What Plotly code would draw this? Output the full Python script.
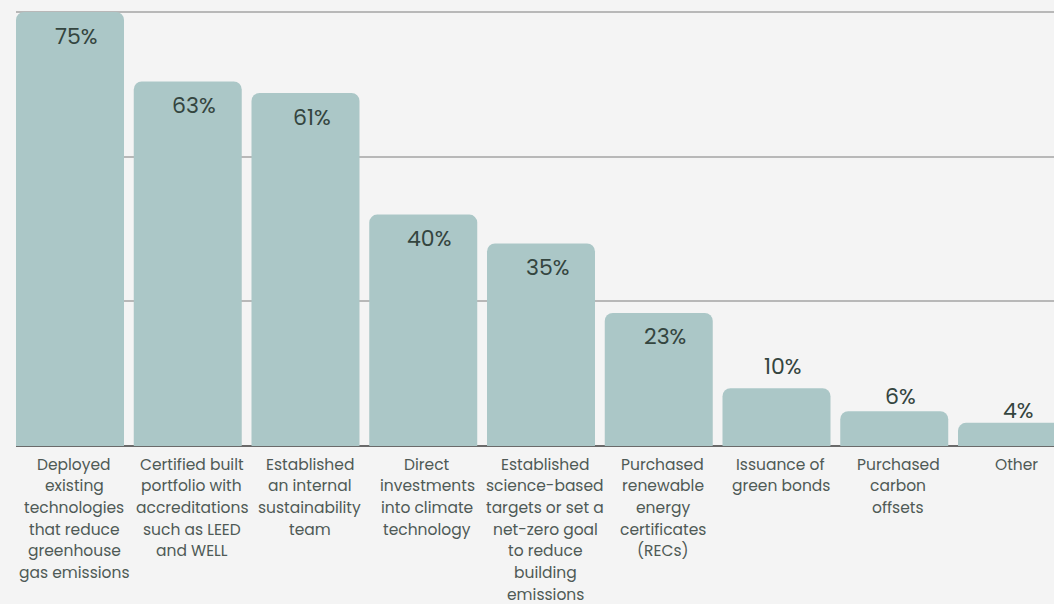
import plotly.graph_objects as go

categories = [
    "Deployed<br>existing<br>technologies<br>that reduce<br>greenhouse<br>gas emissions",
    "Certified built<br>portfolio with<br>accreditations<br>such as LEED<br>and WELL",
    "Established<br>an internal<br>sustainability<br>team",
    "Direct<br>investments<br>into climate<br>technology",
    "Established<br>science-based<br>targets or set a<br>net-zero goal<br>to reduce<br>building<br>emissions",
    "Purchased<br>renewable<br>energy<br>certificates<br>(RECs)",
    "Issuance of<br>green bonds",
    "Purchased<br>carbon<br>offsets",
    "Other",
]
values = [75, 63, 61, 40, 35, 23, 10, 6, 4]
value_labels = ["75%", "63%", "61%", "40%", "35%", "23%", "10%", "6%", "4%"]
y_ticks = [0, 25, 50, 75]

FONT = "Poppins, Inter, 'Open Sans', sans-serif"
BAR = "#abc7c7"
VAL_COLOR = "#34453f"
CAT_COLOR = "#4f5a56"

x_idx = list(range(len(categories)))

fig = go.Figure()
fig.add_trace(go.Bar(
    x=x_idx, y=values,
    marker=dict(color=BAR, cornerradius=8, line=dict(width=0)),
    hoverinfo="skip",
))

annotations = []
above_shift = {10: 22, 6: 15, 4: 12}
for i, (v, lab) in enumerate(zip(values, value_labels)):
    shift = -24 if v >= 20 else above_shift.get(v, 14)
    annotations.append(dict(x=i, y=v, xref="x", yref="y", text=lab, showarrow=False,
                            yanchor="middle", yshift=shift, xshift=6,
                            font=dict(family=FONT, size=22, color=VAL_COLOR)))

for i, cat in enumerate(categories):
    for j, line in enumerate(cat.split("<br>")):
        annotations.append(dict(x=i, y=0, xref="x", yref="y", text=line, showarrow=False,
                                yanchor="middle", yshift=-18 - 21.7 * j, xshift=4,
                                font=dict(family=FONT, size=15.5, color=CAT_COLOR)))

half = 0.4586
px_per_unit = 117.75
right = (1054 - 16) / px_per_unit - half

fig.update_layout(
    width=1054, height=604,
    margin=dict(l=16, r=0, t=10, b=158),
    paper_bgcolor="#f4f4f4", plot_bgcolor="#f4f4f4",
    bargap=0.083,
    showlegend=False,
    annotations=annotations,
    xaxis=dict(range=[-half, right], showticklabels=False, showgrid=False,
               zeroline=False, showline=False, ticks=""),
    yaxis=dict(range=[0, 75.35], tickvals=y_ticks, showticklabels=False,
               showgrid=True, gridcolor="#b8b8b8", gridwidth=1.5,
               zeroline=True, zerolinecolor="#6a6a6a", zerolinewidth=2,
               showline=False, ticks=""),
)

fig.write_html("out.html", config={"displayModeBar": False})
with open("out.html", "r", encoding="utf-8") as f:
    html = f.read()
html = html.replace("<body>", "<body style=\"margin:0;background:#f4f4f4;\">", 1)
with open("out.html", "w", encoding="utf-8") as f:
    f.write(html)
